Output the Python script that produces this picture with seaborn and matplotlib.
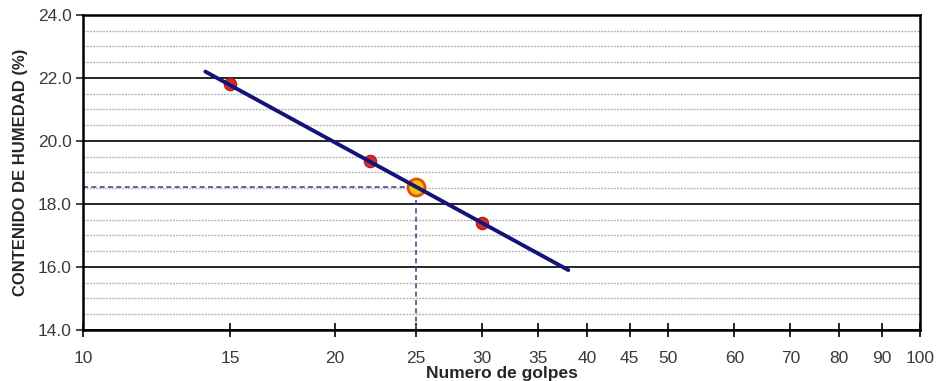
import numpy as np
import pandas as pd
import matplotlib
matplotlib.use("Agg")
import matplotlib.pyplot as plt
import matplotlib.ticker as mtick
import seaborn as sns

# puntos de ensayo
golpes = [15, 22, 30]
humedad = [21.8, 19.35, 17.4]

# recta de ajuste (extremos)
linea_golpes = [14, 38]
linea_humedad = [22.2, 15.9]

# limite liquido a 25 golpes
ll_golpes = 25
ll_humedad = 18.55

xticks = [10, 15, 20, 25, 30, 35, 40, 45, 50, 60, 70, 80, 90, 100]

sns.set_theme(style="white")
plt.rcParams['font.family'] = ['Liberation Sans', 'DejaVu Sans']

fig = plt.figure(figsize=(9.36, 3.81), dpi=100)
ax = fig.add_axes([0.0887, 0.134, 0.8943, 0.827])

ax.set_xscale('log')
ax.set_xlim(10, 100)
ax.set_ylim(14, 24)

# rejilla
ax.yaxis.set_major_locator(mtick.MultipleLocator(2))
ax.yaxis.set_minor_locator(mtick.MultipleLocator(0.5))
ax.grid(which='major', axis='y', color='black', lw=1.2, ls='-')
ax.grid(which='minor', axis='y', color='#b8b8b8', lw=1.0, ls=(0, (1.5, 0.8)))
ax.grid(which='both', axis='x', visible=False)
ax.set_axisbelow(True)

df_pts = pd.DataFrame({'golpes': golpes, 'humedad': humedad})
df_lin = pd.DataFrame({'golpes': linea_golpes, 'humedad': linea_humedad})

# lineas de referencia
ax.plot([10, ll_golpes], [ll_humedad, ll_humedad], color='#4a4a8a', lw=1.2, ls=(0, (3, 2)), zorder=2)
ax.plot([ll_golpes, ll_golpes], [14, ll_humedad], color='#4a4a8a', lw=1.2, ls=(0, (3, 2)), zorder=2)

sns.scatterplot(data=df_pts, x='golpes', y='humedad', ax=ax, s=80, color='#d42a2a',
                edgecolor='#b01818', linewidth=0.8, zorder=3, legend=False)
ax.scatter([ll_golpes], [ll_humedad], s=150, color='#f5c200', edgecolor='#e05010',
           linewidths=2, zorder=3)
sns.lineplot(data=df_lin, x='golpes', y='humedad', ax=ax, color='#141478', lw=2.8, zorder=4)

ax.xaxis.set_major_locator(mtick.FixedLocator(xticks))
ax.xaxis.set_minor_locator(mtick.NullLocator())
ax.xaxis.set_major_formatter(mtick.FixedFormatter([str(t) for t in xticks]))
ax.yaxis.set_major_formatter(mtick.FormatStrFormatter('%.1f'))
ax.tick_params(axis='x', which='major', direction='inout', length=10, width=1.2, bottom=True,
               labelsize=12.5, colors='black', pad=10, labelcolor='#3a3a3a')
ax.tick_params(axis='y', which='major', direction='out', length=5, width=1.2, left=True,
               labelsize=12.5, labelcolor='#3a3a3a', pad=3)
ax.tick_params(axis='y', which='minor', left=False)

for s in ax.spines.values():
    s.set_color('black')
    s.set_linewidth(1.8)

ax.set_xlabel('Numero de golpes', fontsize=12.5, fontweight='bold', labelpad=0)
ax.set_ylabel('CONTENIDO DE HUMEDAD (%)', fontsize=12, fontweight='bold', labelpad=7)

fig.savefig('out.png', dpi=100)
